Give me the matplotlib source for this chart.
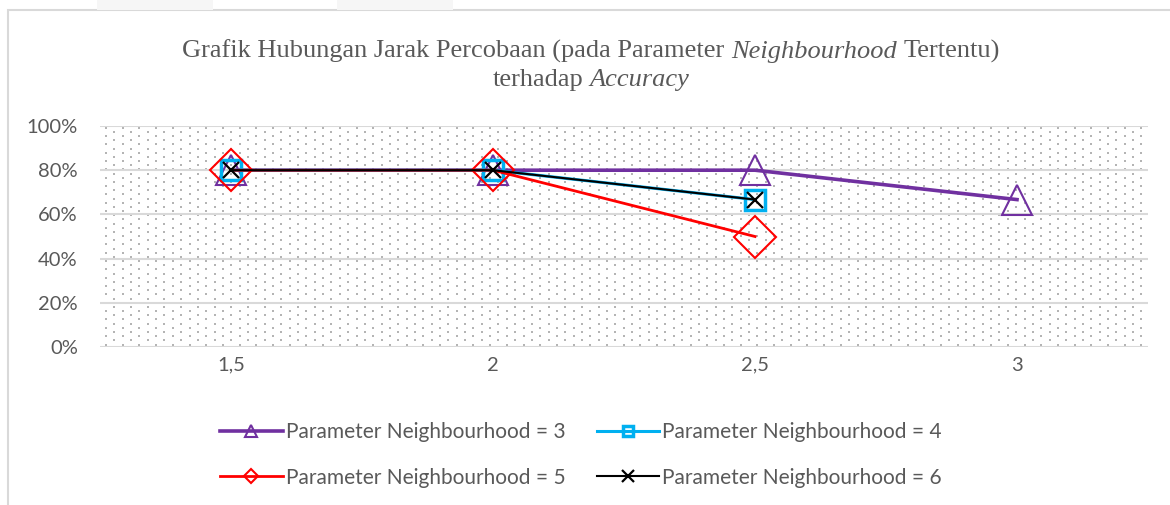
import numpy as np
import matplotlib.pyplot as plt
from matplotlib.patches import Rectangle

# data
jarak = ['1,5', '2', '2,5', '3']
n3 = [0.80, 0.80, 0.80, 0.667]
n4 = [0.80, 0.80, 0.667]
n5 = [0.80, 0.80, 0.50]
n6 = [0.80, 0.80, 0.667]
yticks = [0, 0.2, 0.4, 0.6, 0.8, 1.0]
ylabels = ['0%', '20%', '40%', '60%', '80%', '100%']

GREY = '#595959'

fig = plt.figure(figsize=(11.7, 5.05), dpi=100)
W, H = 1170, 505

# chart border and faint strips at top
fig.patches.append(Rectangle((8 / W, -0.1), 1.2, 1 - 10 / H + 0.1, transform=fig.transFigure,
                             facecolor='none', edgecolor='#d9d9d9', lw=1.5, zorder=0))
for x0 in (97, 337):
    fig.patches.append(Rectangle((x0 / W, 1 - 10 / H), 116 / W, 10 / H, transform=fig.transFigure,
                                 facecolor='#f6f6f6', edgecolor='none', zorder=0))

aw, ah = 1048, 221
ax = fig.add_axes([100 / W, 1 - 347 / H, aw / W, ah / H])
ax.set_zorder(2)
ax.patch.set_alpha(0)

# dotted pattern fill of plot area (staggered rows, like Excel's dotted pattern)
px, py = 16.7, 4.17
pts = []
for r, yy in enumerate(np.arange(2.5, ah, py)):
    off = 6 if r % 2 == 0 else 6 + px / 2
    for xx in np.arange(off, aw, px):
        pts.append((xx / aw, yy / ah))
pts = np.array(pts)
ax.scatter(pts[:, 0], pts[:, 1], s=1.0, marker='s', color='#b4b4b4', linewidths=0,
           transform=ax.transAxes, zorder=0)

x = list(range(len(jarak)))
ax.plot(x[:len(n3)], n3, color='#7030a0', lw=2.6, marker='^', ms=21, mfc='none',
        mec='#7030a0', mew=1.5, zorder=3, label='Parameter Neighbourhood = 3')
ax.plot(x[:len(n4)], n4, color='#00b0f0', lw=2.2, marker='s', ms=14, mfc='none',
        mec='#00b0f0', mew=2.5, zorder=4, label='Parameter Neighbourhood = 4')
ax.plot(x[:len(n5)], n5, color='#ff0000', lw=2.0, marker='D', ms=21, mfc='none',
        mec='#ff0000', mew=1.5, zorder=5, label='Parameter Neighbourhood = 5')
ax.plot(x[:len(n6)], n6, color='#000000', lw=1.5, marker='x', ms=12, mew=1.6,
        zorder=6, label='Parameter Neighbourhood = 6')

ax.set_xlim(-0.5, 3.5)
ax.set_ylim(0, 1)
ax.set_xticks(x)
ax.set_xticklabels(jarak)
ax.set_yticks(yticks)
ax.set_yticklabels(ylabels)
ax.grid(axis='y', color='#d9d9d9', lw=1.5, zorder=1)
ax.set_axisbelow(True)
for s in ax.spines.values():
    s.set_visible(False)
ax.tick_params(length=0, labelsize=14.5, labelcolor=GREY)
ax.tick_params(axis='y', pad=16)
ax.tick_params(axis='x', pad=7)
for lab in ax.get_xticklabels() + ax.get_yticklabels():
    lab.set_fontfamily('Lato')

# title with italic parts
renderer = fig.canvas.get_renderer()


def rich_line(parts, yc, xc=591 / W, size=19):
    sp = fig.text(0, 0, 'a a', fontsize=size, family='Liberation Serif')
    nsp = fig.text(0, 0, 'aa', fontsize=size, family='Liberation Serif')
    space = (sp.get_window_extent(renderer).width - nsp.get_window_extent(renderer).width) / W
    sp.remove()
    nsp.remove()
    texts = []
    for s, style in parts:
        t = fig.text(0, yc, s, fontsize=size, family='Liberation Serif', style=style,
                     color=GREY, va='baseline')
        texts.append((t, t.get_window_extent(renderer).width / W))
    total = sum(w for _, w in texts) + space * (len(texts) - 1)
    cur = xc - total / 2
    for t, w in texts:
        t.set_x(cur)
        cur += w + space


rich_line([('Grafik Hubungan Jarak Percobaan (pada Parameter', 'normal'),
           ('Neighbourhood', 'italic'), ('Tertentu)', 'normal')], 1 - 58 / H)
rich_line([('terhadap', 'normal'), ('Accuracy', 'italic')], 1 - 86 / H)

# legend (column-major fill -> reorder)
h, l = ax.get_legend_handles_labels()
order = [0, 2, 1, 3]
leg = fig.legend([h[i] for i in order], [l[i] for i in order], ncol=2,
                 loc='center', bbox_to_anchor=(581 / W, 1 - 455 / H), frameon=False,
                 handlelength=3.0, handletextpad=0.15, columnspacing=1.5,
                 labelspacing=1.2, prop={'family': 'Lato', 'size': 15})
for t in leg.get_texts():
    t.set_color(GREY)
for hd, ms in zip(leg.legend_handles, [9, 7.5, 7, 8]):
    hd.set_markersize(ms)

fig.savefig('out.png', dpi=100)
